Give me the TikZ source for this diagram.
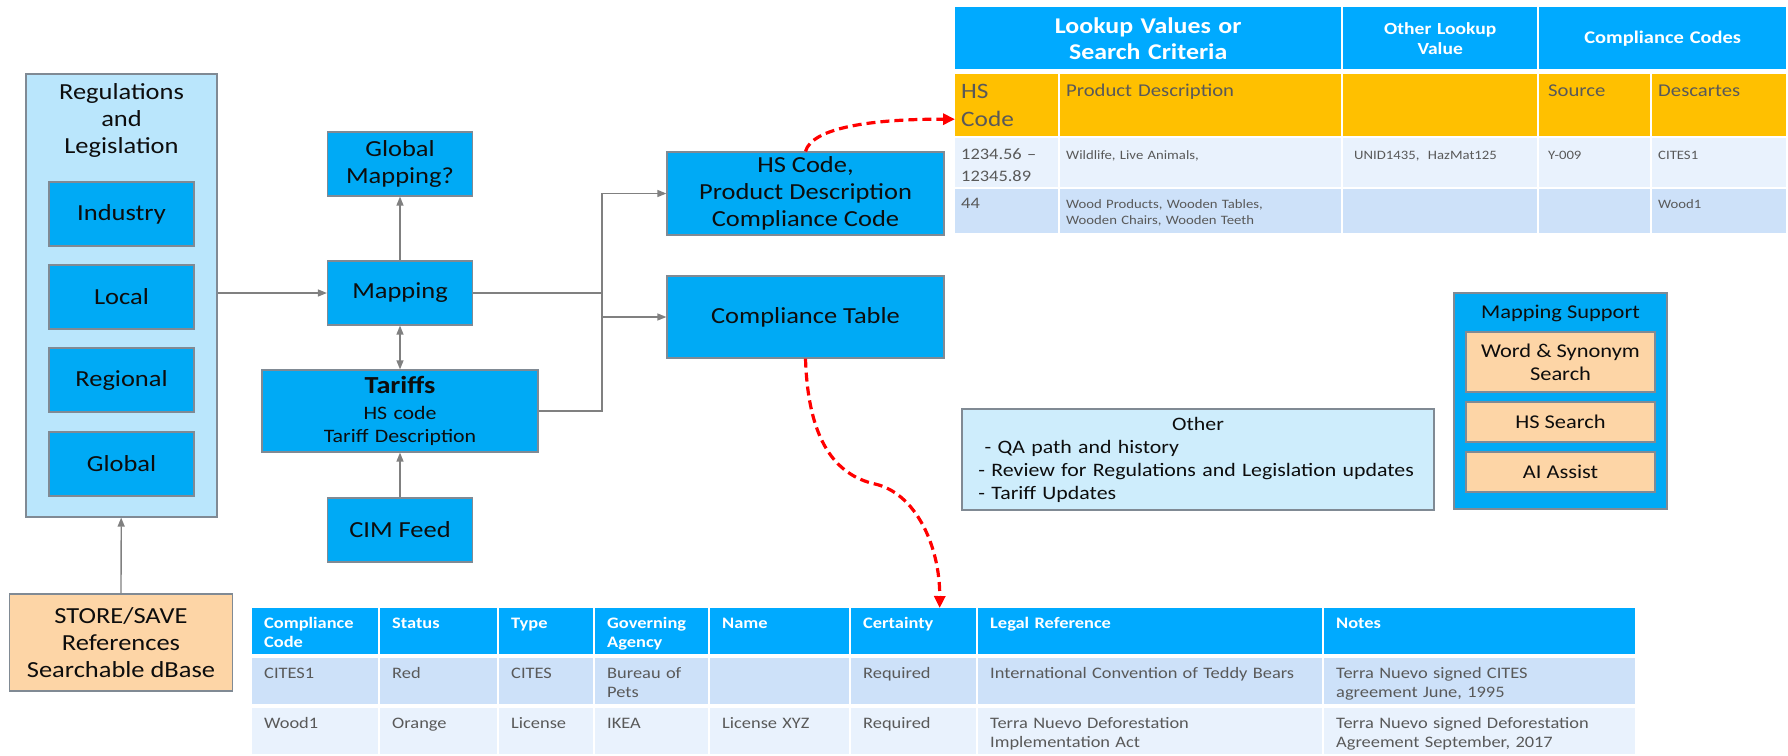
\documentclass[tikz,border=0pt]{standalone}
\usepackage{fontspec}
\setmainfont{Carlito}[FakeStretch=1.15]
\usetikzlibrary{arrows.meta}

\definecolor{boxblue}{RGB}{0,170,245}
\definecolor{paleblue}{RGB}{186,230,252}
\definecolor{otherblue}{RGB}{206,237,252}
\definecolor{peach}{RGB}{253,213,166}
\definecolor{edgegrey}{RGB}{128,138,148}
\definecolor{linkgrey}{RGB}{128,128,128}
\definecolor{headblue}{RGB}{0,170,255}
\definecolor{gold}{RGB}{255,192,0}
\definecolor{rowlight}{RGB}{233,242,253}
\definecolor{rowdark}{RGB}{205,225,249}
\definecolor{celltext}{RGB}{89,89,89}

\begin{document}
\begin{tikzpicture}[x=1pt, y=-1pt]
    % Define styles for blocks and arrows
    \tikzstyle{bluebox} = [rectangle, draw=edgegrey, line width=1.2pt, fill=boxblue, text=black!95, align=center, inner sep=0pt, minimum width=145pt, minimum height=64pt, font=\fontsize{23pt}{27pt}\selectfont]
    \tikzstyle{palebox} = [rectangle, draw=edgegrey, line width=1.2pt, fill=paleblue]
    \tikzstyle{peachbox} = [rectangle, draw=edgegrey, line width=1.2pt, fill=peach, text=black!95, align=center, inner sep=0pt, font=\fontsize{19.5pt}{23pt}\selectfont]
    \tikzstyle{otherbox} = [rectangle, draw=edgegrey, line width=1.2pt, fill=otherblue, text=black!95, align=left, font=\fontsize{19pt}{23pt}\selectfont]
    \tikzstyle{heading} = [text=black!95, align=center, inner sep=0pt]
    \tikzstyle{arrow} = [draw=linkgrey, line width=1.3pt, -{Triangle[length=9pt, width=7pt]}]
    \tikzstyle{twoway} = [draw=linkgrey, line width=1.3pt, {Triangle[length=9pt, width=7pt]}-{Triangle[length=9pt, width=7pt]}]
    \tikzstyle{wire} = [draw=linkgrey, line width=1.3pt]
    \tikzstyle{dashlink} = [draw=red, line width=3.2pt, dash pattern=on 9pt off 5pt, -{Triangle[length=12pt, width=11pt]}]
    % Styles for the two tables
    \tikzstyle{thead} = [anchor=north west, fill=headblue, text=white, align=center, inner sep=0pt, minimum height=62pt]
    \tikzstyle{tcell} = [anchor=north west, text=celltext, align=left, inner xsep=6pt, inner ysep=0pt, font=\fontsize{12.8pt}{16pt}\selectfont]
    \tikzstyle{goldrow} = [fill=gold, text height=22pt, text depth=40pt, font=\fontsize{18pt}{22pt}\selectfont]
    \tikzstyle{lightrow} = [fill=rowlight, text height=21pt, text depth=28pt]
    \tikzstyle{darkrow} = [fill=rowdark, text height=19pt, text depth=25pt]
    \tikzstyle{bcell} = [anchor=north west, text=celltext, align=left, inner xsep=12pt, inner ysep=0pt, text height=20pt, text depth=26pt, font=\fontsize{16pt}{19pt}\selectfont]
    \tikzstyle{bhead} = [bcell, fill=headblue, text=white, font=\fontsize{16pt}{19pt}\selectfont\bfseries]
    \tikzstyle{bdark} = [bcell, fill=rowdark]
    \tikzstyle{blight} = [bcell, fill=rowlight]

    \useasboundingbox (0,0) rectangle (1788,755);

    % Regulations and Legislation
    \node (regs) [palebox, minimum width=191pt, minimum height=443pt] at (121.5,295.5) {};
    \node (regtitle) [heading, font=\fontsize{23pt}{27pt}\selectfont] at (121.5,120) {Regulations\\and\\Legislation};
    \node (industry) [bluebox] at (121.5,214) {Industry};
    \node (local) [bluebox] at (121.5,297) {Local};
    \node (regional) [bluebox] at (121.5,380) {Regional};
    \node (global) [bluebox] at (121.5,464) {Global};
    \node (store) [peachbox, minimum width=223pt, minimum height=97pt, font=\fontsize{23pt}{27pt}\selectfont] at (121,642.5) {STORE/SAVE\\References\\Searchable dBase};

    % Mapping column
    \node (gmap) [bluebox] at (400,164) {Global\\Mapping?};
    \node (mapping) [bluebox] at (400,293) {Mapping};
    \node (tariffs) [bluebox, minimum width=276pt, minimum height=82pt, text width=268pt, font=\fontsize{19pt}{23pt}\selectfont] at (400,411) {{\fontsize{24.5pt}{26pt}\selectfont\bfseries Tariffs}\\[3pt]HS code\\Tariff Description};
    \node (cim) [bluebox] at (400,530) {CIM Feed};

    % Outputs
    \node (hsbox) [bluebox, minimum width=277pt, minimum height=83pt] at (805.5,193.5) {HS Code,\\Product Description\\Compliance Code};
    \node (ctable) [bluebox, minimum width=277pt, minimum height=82pt] at (805.5,317) {Compliance Table};
    \coordinate (bus) at (602,300);

    % Other and Mapping Support
    \node (other) [otherbox, minimum width=472pt, minimum height=101pt, text width=452pt, inner xsep=10pt] at (1198,459.5) {\makebox[\linewidth]{Other}\\\ \ - QA path and history\\\ - Review for Regulations and Legislation updates\\\ - Tariff Updates};
    \node (support) [bluebox, minimum width=213pt, minimum height=216pt] at (1560.5,401) {};
    \node (supporttitle) [heading, font=\fontsize{19.5pt}{23pt}\selectfont] at (1560.5,313) {Mapping Support};
    \node (wordsearch) [peachbox, minimum width=189pt, minimum height=60pt] at (1560.5,362) {Word \& Synonym\\Search};
    \node (hssearch) [peachbox, minimum width=189pt, minimum height=40pt] at (1560.5,422) {HS Search};
    \node (aiassist) [peachbox, minimum width=189pt, minimum height=40pt] at (1560.5,472) {AI Assist};

    % Lookup table
    \node (lookup) [thead, text width=386pt, font=\fontsize{22.5pt}{26pt}\selectfont\bfseries] at (955,7) {Lookup Values or\\Search Criteria};
    \node (otherlookup) [thead, text width=194pt, font=\fontsize{17pt}{20pt}\selectfont\bfseries] at (1343,7) {Other Lookup\\Value};
    \node (codes) [thead, text width=247pt, font=\fontsize{17.8pt}{20pt}\selectfont\bfseries] at (1539,7) {Compliance Codes};
    \node (hscode) [tcell, fill=gold, minimum height=62pt, text width=91pt, font=\fontsize{22pt}{28pt}\selectfont] at (955,74) {HS\\Code};
    \node (proddesc) [tcell, goldrow, text width=269pt] at (1060,74) {Product Description};
    \node (otherval) [tcell, goldrow, text width=182pt] at (1343,74) {};
    \node (source) [tcell, goldrow, text width=93pt, inner xsep=9pt] at (1539,74) {Source};
    \node (descartes) [tcell, goldrow, text width=122pt] at (1652,74) {Descartes};
    \node (hsa) [tcell, lightrow, text width=91pt, font=\fontsize{16pt}{22pt}\selectfont] at (955,138) {1234.56 --\\12345.89};
    \node (proda) [tcell, lightrow, text width=269pt] at (1060,138) {Wildlife, Live Animals,};
    \node (othera) [tcell, lightrow, text width=172pt, inner xsep=11pt] at (1343,138) {UNID1435,\ \ HazMat125};
    \node (sourcea) [tcell, lightrow, text width=93pt, inner xsep=9pt] at (1539,138) {Y-009};
    \node (descartesa) [tcell, lightrow, text width=122pt] at (1652,138) {CITES1};
    \node (hsb) [tcell, darkrow, text width=91pt, font=\fontsize{16pt}{22pt}\selectfont] at (955,189) {44};
    \node (prodb) [tcell, darkrow, text width=269pt] at (1060,189) {Wood Products, Wooden Tables,\\Wooden Chairs, Wooden Teeth};
    \node (otherb) [tcell, darkrow, text width=172pt, inner xsep=11pt] at (1343,189) {};
    \node (sourceb) [tcell, darkrow, text width=93pt, inner xsep=9pt] at (1539,189) {};
    \node (descartesb) [tcell, darkrow, text width=122pt] at (1652,189) {Wood1};

    % Compliance table
    \node (hcode) [bhead, text width=102pt] at (252,608) {Compliance\\Code};
    \node (hstatus) [bhead, text width=93pt] at (380,608) {Status};
    \node (htype) [bhead, text width=70pt] at (499,608) {Type};
    \node (hagency) [bhead, text width=89pt] at (595,608) {Governing\\Agency};
    \node (hname) [bhead, text width=115pt] at (710,608) {Name};
    \node (hcert) [bhead, text width=101pt] at (851,608) {Certainty};
    \node (hlegal) [bhead, text width=320pt] at (978,608) {Legal Reference};
    \node (hnotes) [bhead, text width=287pt] at (1324,608) {Notes};
    \node (codea) [bdark, text width=102pt] at (252,658) {CITES1};
    \node (statusa) [bdark, text width=93pt] at (380,658) {Red};
    \node (typea) [bdark, text width=70pt] at (499,658) {CITES};
    \node (agencya) [bdark, text width=89pt] at (595,658) {Bureau of\\Pets};
    \node (namea) [bdark, text width=115pt] at (710,658) {};
    \node (certa) [bdark, text width=101pt] at (851,658) {Required};
    \node (legala) [bdark, text width=320pt] at (978,658) {International Convention of Teddy Bears};
    \node (notesa) [bdark, text width=287pt] at (1324,658) {Terra Nuevo signed CITES\\agreement June, 1995};
    \node (codeb) [blight, text width=102pt] at (252,708) {Wood1};
    \node (statusb) [blight, text width=93pt] at (380,708) {Orange};
    \node (typeb) [blight, text width=70pt] at (499,708) {License};
    \node (agencyb) [blight, text width=89pt] at (595,708) {IKEA};
    \node (nameb) [blight, text width=115pt] at (710,708) {License XYZ};
    \node (certb) [blight, text width=101pt] at (851,708) {Required};
    \node (legalb) [blight, text width=320pt] at (978,708) {Terra Nuevo Deforestation\\Implementation Act};
    \node (notesb) [blight, text width=287pt] at (1324,708) {Terra Nuevo signed Deforestation\\Agreement September, 2017};

    % Arrows
    \draw [arrow] (store) -- (regs);
    \draw [arrow] (regs.east |- mapping.west) -- (mapping.west);
    \draw [arrow] (mapping) -- (gmap);
    \draw [twoway] (mapping) -- (tariffs);
    \draw [arrow] (cim) -- (tariffs);
    \draw [wire] (mapping.east) -- (mapping.east -| bus);
    \draw [arrow] (tariffs.east) -| (bus |- hsbox.west) -- (hsbox.west);
    \draw [arrow] (bus |- ctable.west) -- (ctable.west);
    \draw [dashlink] (hsbox.north) .. controls (812,128) and (870,119) .. ([yshift=-14pt]hscode.west);
    \draw [dashlink] (ctable.south) .. controls (808,440) and (835,475) .. (875,484) .. controls (915,493) and (940,545) .. ([xshift=26pt]hcert.north);

\end{tikzpicture}
\end{document}
